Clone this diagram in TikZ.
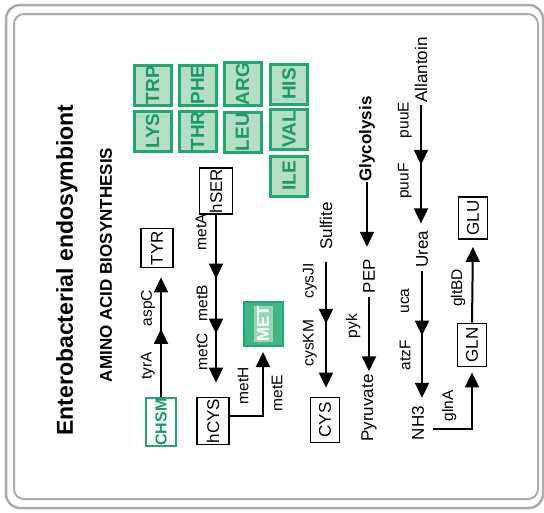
\documentclass[tikz,border=0pt]{standalone}
\usepackage{fontspec}
\setmainfont{Liberation Sans}
\usetikzlibrary{arrows.meta,decorations.markings,calc}
\definecolor{gbord}{HTML}{1FA870}
\definecolor{gfill}{HTML}{B5DEC4}
\definecolor{gtext}{HTML}{1A9A66}
\definecolor{gstripe}{HTML}{9AD6B4}
\definecolor{framec}{HTML}{ABABAB}
\begin{document}
\begin{tikzpicture}[x=1pt,y=-1pt,
  tipk/.tip={Triangle[length=15pt,width=14pt]},
  lbl/.style={rotate=90,inner sep=0pt,font=\fontsize{15.5}{15.5}\selectfont},
  txt/.style={rotate=90,inner sep=0pt,font=\fontsize{17}{17}\selectfont},
  bbox/.style={rotate=90,draw=black,line width=1.8pt,fill=white,inner sep=0.5pt,font=\fontsize{17}{17}\selectfont},
  aabox/.style={rotate=90,draw=gbord,line width=3pt,fill=gfill,inner sep=0pt,minimum width=40pt,minimum height=37pt,text=gtext,font=\bfseries\fontsize{19}{19}\selectfont},
  ln/.style={line width=2pt},
  arr/.style={ln,-tipk},
  midtip/.style={postaction={decorate,decoration={markings,mark=at position #1 with {\arrow{tipk}}}}}
]
\useasboundingbox (0,0) rectangle (544,512);
% frame
\draw[framec,line width=2.5pt,rounded corners=14pt] (6,5) rectangle (543,508);
\draw[framec,line width=2pt,rounded corners=10pt] (14,14) rectangle (538,499);

% titles
\node[rotate=90,inner sep=0pt,font=\bfseries\fontsize{23}{23}\selectfont] (title) at (67,270) {Enterobacterial endosymbiont};
\node[rotate=90,inner sep=0pt,font=\bfseries\fontsize{17}{17}\selectfont] (sub) at (106,265) {AMINO ACID BIOSYNTHESIS};

% amino acid boxes
\node[aabox] (TRP) at (152.5,85) {TRP};
\node[aabox] (LYS) at (152.5,131) {LYS};
\node[aabox] (PHE) at (197.5,85) {PHE};
\node[aabox] (THR) at (197.5,131) {THR};
\node[aabox] (ARG) at (242.5,84) {ARG};
\node[aabox] (LEU) at (242.5,132) {LEU};
\node[aabox] (HIS) at (289,84) {HIS};
\node[aabox] (VAL) at (289,129) {VAL};
\node[aabox] (ILE) at (289,176) {ILE};

% boxes
\node[bbox,minimum width=39pt,minimum height=32pt] (TYR) at (157,248) {TYR};
\node[bbox,draw=gbord,text=gtext,line width=2pt,font=\bfseries\fontsize{16}{16}\selectfont,minimum width=48pt,minimum height=30pt] (CHSM) at (161,422) {CHSM};
\node[bbox,minimum width=43pt,minimum height=33pt] (hSER) at (216,191) {hSER};
\node[bbox,minimum width=47pt,minimum height=32pt] (hCYS) at (213,421) {hCYS};
\node[bbox,draw=gbord,fill=gbord!85,line width=2pt,minimum width=44pt,minimum height=39pt] (MET) at (263,324) {};
\node[rotate=90,fill=gstripe,inner sep=0pt,minimum width=36pt,minimum height=19pt,text=white,font=\bfseries\fontsize{17}{17}\selectfont] (METt) at (MET.center) {MET};
\node[bbox,minimum width=45pt,minimum height=29pt] (CYS) at (325,420) {CYS};
\node[bbox,minimum width=43pt,minimum height=29pt] (GLN) at (472,345) {GLN};
\node[bbox,minimum width=42pt,minimum height=29pt] (GLU) at (473,218) {GLU};

% metabolite texts
\node[txt] (Sulfite) at (326,226) {Sulfite};
\node[rotate=90,inner sep=0pt,font=\bfseries\fontsize{17}{17}\selectfont] (Gly) at (367,139) {Glycolysis};
\node[txt] (PEP) at (369,276) {PEP};
\node[txt] (Pyr) at (369,408) {Pyruvate};
\node[txt] (Allantoin) at (421,70) {Allantoin};
\node[txt] (Urea) at (422,249) {Urea};
\node[txt] (NH3) at (418,423) {NH3};

% enzyme labels
\node[lbl] (tyrA) at (148,366) {tyrA};
\node[lbl] (aspC) at (148,308) {aspC};
\node[lbl] (metA) at (201,232) {metA};
\node[lbl] (metB) at (202,303) {metB};
\node[lbl] (metC) at (202,352) {metC};
\node[lbl] (metH) at (243,386) {metH};
\node[lbl] (metE) at (277,393) {metE};
\node[lbl] (cysJI) at (310,281) {cysJI};
\node[lbl] (cysKM) at (310,343) {cysKM};
\node[lbl] (pyk) at (353,326) {pyk};
\node[lbl] (puuE) at (405,120) {puuE};
\node[lbl] (puuF) at (405,181) {puuF};
\node[lbl] (uca) at (405,301) {uca};
\node[lbl] (atzF) at (405,355) {atzF};
\node[lbl] (glnA) at (449,406) {glnA};
\node[lbl] (gltBD) at (458,288) {gltBD};

% connector helper points
\coordinate (sulS) at ($(Sulfite.west)+(0,12)$);
\coordinate (pepS) at ($(PEP.west)+(0,4)$);
\coordinate (allS) at ($(Allantoin.west)+(0,2)$);
\coordinate (ureS) at ($(Urea.west)+(0,3)$);
\coordinate (metS) at ($(hCYS.south)+(0,-5)$);
\coordinate (glnS) at (433,429);

% connectors
\draw[arr,midtip=68pt,shorten >=9pt] (CHSM.east) -- (CHSM.east |- TYR.west);
\draw[arr,midtip=64pt,midtip=119pt,shorten >=14pt] (hSER.west) -- (hSER.west |- hCYS.east);
\draw[arr,shorten >=5pt] (metS) -| (MET.west);
\draw[arr,midtip=62pt,shorten >=9pt] (sulS) -- (sulS |- CYS.east);
\draw[arr,shorten >=12pt] (Gly.west) -- (Gly.west |- PEP.east);
\draw[arr,shorten >=3pt] (pepS) -- (pepS |- Pyr.east);
\draw[arr,midtip=60pt,shorten >=7pt] (allS) -- (allS |- Urea.east);
\draw[arr,midtip=65pt,shorten >=8pt] (ureS) -- (ureS |- NH3.east);
\draw[arr,shorten >=5pt] (glnS) -| (GLN.west);
\draw[arr,shorten >=7pt] (GLN.east) -- (GLU.west);
\end{tikzpicture}
\end{document}
